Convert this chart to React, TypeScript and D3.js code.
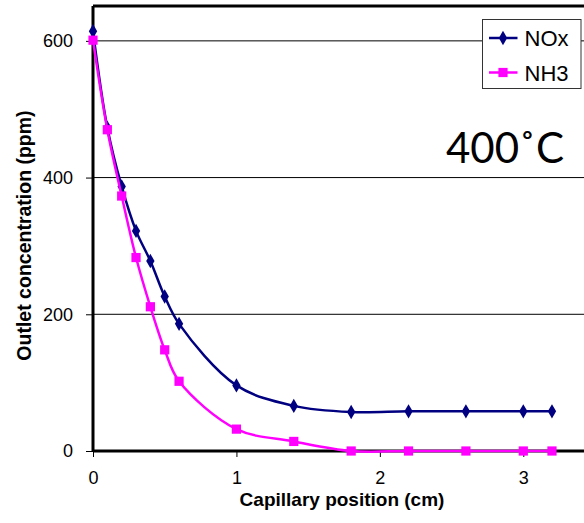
import { useEffect, useRef } from 'react';
import * as d3 from 'd3';

const positions = [0, 0.1, 0.2, 0.3, 0.4, 0.5, 0.6, 1.0, 1.4, 1.8, 2.2, 2.6, 3.0, 3.2];
const noxValues = [614, 473, 387, 322, 278, 226, 186, 96, 66, 57, 58, 58, 58, 58];
const nh3Values = [601, 470, 373, 283, 211, 148, 102, 32, 14, 0, 0, 0, 0, 0];
const xTicks = [0, 1, 2, 3];
const yTicks = [0, 200, 400, 600];

const series = [
  { name: 'NOx', color: '#000080', values: noxValues, marker: 'diamond' },
  { name: 'NH3', color: '#ff00ff', values: nh3Values, marker: 'square' },
];

const FONT = 'Liberation Sans, Arial, sans-serif';

export default function App() {
  const svgRef = useRef<SVGSVGElement>(null);
  const width = 584;
  const height = 523;
  const margin = { top: 6, right: -11, bottom: 72, left: 93 };

  useEffect(() => {
    if (!svgRef.current) return;
    const innerW = width - margin.left - margin.right;
    const innerH = height - margin.top - margin.bottom;

    const x = d3.scaleLinear().domain([0, 3.5]).range([0, innerW]);
    const y = d3.scaleLinear().domain([0, 651]).range([innerH, 0]);

    const svg = d3.select(svgRef.current);
    svg.selectAll('*').remove();
    const g = svg.append('g').attr('transform', `translate(${margin.left},${margin.top})`);

    // grid
    g.append('g')
      .selectAll('line')
      .data(yTicks.filter((d) => d > 0))
      .join('line')
      .attr('x1', 0).attr('x2', innerW)
      .attr('y1', (d) => y(d)).attr('y2', (d) => y(d))
      .attr('stroke', '#000').attr('stroke-width', 1);

    // top border
    g.append('line').attr('x1', 0).attr('x2', innerW).attr('y1', 0).attr('y2', 0)
      .attr('stroke', '#000').attr('stroke-width', 3);

    // axes
    g.append('g').attr('transform', `translate(0,${innerH})`)
      .call(d3.axisBottom(x).tickValues(xTicks).tickSize(6).tickPadding(14).tickFormat(d3.format('d')))
      .call((a) => {
        a.select('.domain').remove();
        a.selectAll('line').attr('stroke', '#000');
        a.selectAll('text').attr('fill', '#000').attr('font-size', 18).attr('font-family', FONT);
      });
    g.append('g')
      .call(d3.axisLeft(y).tickValues(yTicks).tickSize(7).tickPadding(13))
      .call((a) => {
        a.select('.domain').remove();
        a.selectAll('line').attr('stroke', '#000');
        a.selectAll('text').attr('fill', '#000').attr('font-size', 18).attr('font-family', FONT);
      });
    g.append('line').attr('x1', 0).attr('x2', 0).attr('y1', 0).attr('y2', innerH)
      .attr('stroke', '#000').attr('stroke-width', 3);
    g.append('line').attr('x1', 0).attr('x2', innerW).attr('y1', innerH).attr('y2', innerH)
      .attr('stroke', '#000').attr('stroke-width', 3);

    const line = d3.line<number>()
      .x((_, i) => x(positions[i]))
      .y((d) => y(d))
      .curve(d3.curveCatmullRom.alpha(0.5));

    const diamond = d3.symbol().type(d3.symbolDiamond).size(60)();
    const square = d3.symbol().type(d3.symbolSquare).size(85)();

    series.forEach((s) => {
      g.append('path').datum(s.values)
        .attr('fill', 'none').attr('stroke', s.color).attr('stroke-width', 2.5)
        .attr('d', line);
      g.append('g').selectAll('path')
        .data(s.values)
        .join('path')
        .attr('transform', (d, i) => `translate(${x(positions[i])},${y(d)})`)
        .attr('d', s.marker === 'diamond' ? diamond : square)
        .attr('fill', s.color);
    });

    // legend
    const lg = svg.append('g').attr('transform', 'translate(482.5,19.5)');
    lg.append('rect').attr('width', 98.5).attr('height', 69)
      .attr('fill', '#fff').attr('stroke', '#333').attr('stroke-width', 1);
    series.forEach((s, i) => {
      const cy = 18.5 + i * 34.5;
      lg.append('line').attr('x1', 6.5).attr('x2', 35).attr('y1', cy).attr('y2', cy)
        .attr('stroke', s.color).attr('stroke-width', 2.5);
      lg.append('path').attr('transform', `translate(20.5,${cy})`)
        .attr('d', s.marker === 'diamond' ? diamond : square).attr('fill', s.color);
      lg.append('text').attr('x', 42).attr('y', cy + 8)
        .attr('font-size', 22).attr('font-family', FONT)
        .attr('fill', '#000').text(s.name);
    });

    // temperature label
    svg.append('text').attr('x', 446).attr('y', 163)
      .attr('font-size', 42).attr('font-family', 'Lato, "Open Sans", sans-serif')
      .attr('fill', '#000').text('400˚C');

    // axis titles
    svg.append('text')
      .attr('transform', 'translate(31,235.5) rotate(-90)')
      .attr('text-anchor', 'middle').attr('font-size', 19.5).attr('font-weight', 700)
      .attr('font-family', FONT).text('Outlet concentration (ppm)');
    svg.append('text').attr('x', 342).attr('y', 505.5)
      .attr('text-anchor', 'middle').attr('font-size', 19).attr('font-weight', 700)
      .attr('font-family', FONT).text('Capillary position (cm)');
  }, []);

  return (
    <svg ref={svgRef} width={width} height={height}
      style={{ display: 'block', position: 'absolute', left: 0, top: 0, background: '#fff' }} />
  );
}
